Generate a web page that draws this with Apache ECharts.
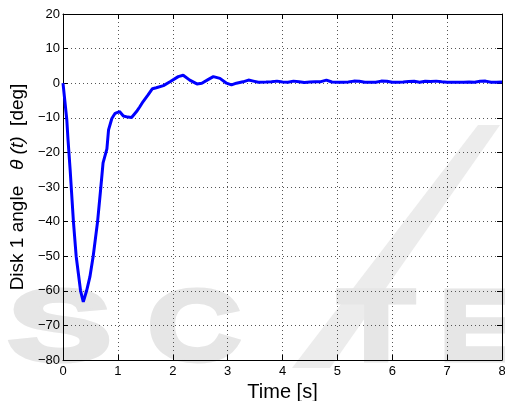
<!DOCTYPE html>
<html>
<head>
<meta charset="utf-8">
<script src="https://cdn.jsdelivr.net/npm/echarts@6/dist/echarts.min.js"></script>
<style>
  html, body { margin: 0; padding: 0; background: #fff; }
  #chart { width: 505px; height: 401px; }
</style>
</head>
<body>
<div id="chart"></div>
<script>
// Disk 1 angle response over time
const timeS = [
  0, 0.07, 0.09, 0.13, 0.15, 0.19, 0.24, 0.28, 0.32, 0.37, 0.43, 0.49, 0.55, 0.63, 0.69, 0.73,
  0.80, 0.83, 0.89, 0.95, 1.03, 1.10, 1.18, 1.25, 1.34, 1.40, 1.46, 1.55, 1.63, 1.70, 1.83,
  1.95, 2.10, 2.19, 2.31, 2.44, 2.53, 2.65, 2.74, 2.86, 2.98, 3.07, 3.16, 3.28, 3.38, 3.47, 3.56,
  3.7, 3.8, 3.9, 4.0, 4.1, 4.2, 4.3, 4.4, 4.5, 4.6, 4.7, 4.8, 4.9, 5.0, 5.1, 5.2, 5.3, 5.4,
  5.5, 5.6, 5.7, 5.8, 5.9, 6.0, 6.1, 6.2, 6.3, 6.4, 6.5, 6.6, 6.7, 6.8, 6.9, 7.0, 7.1, 7.2,
  7.3, 7.4, 7.5, 7.6, 7.7, 7.8, 7.9, 8.0
];
const angleDeg = [
  0, -10.7, -16, -25, -30, -40, -50, -55, -60, -63.2, -60, -56, -50, -40, -30, -23,
  -19, -13.5, -10.2, -8.7, -8.2, -9.5, -9.8, -9.9, -8.2, -6.8, -5.3, -3.4, -1.6, -1.3, -0.7,
  0.4, 1.9, 2.3, 0.9, -0.2, 0.0, 1.1, 1.9, 1.4, 0.0, -0.5, 0.0, 0.4, 0.9, 0.6, 0.3,
  0.35, 0.4, 0.6, 0.35, 0.3, 0.6, 0.4, 0.2, 0.35, 0.4, 0.45, 0.9, 0.35, 0.3, 0.3, 0.35, 0.6, 0.55,
  0.3, 0.25, 0.3, 0.6, 0.55, 0.25, 0.3, 0.35, 0.5, 0.55, 0.3, 0.55, 0.5, 0.6, 0.4, 0.3, 0.25, 0.3,
  0.3, 0.35, 0.3, 0.55, 0.6, 0.3, 0.3, 0.35
];
const xMin = 0, xMax = 8, xStep = 1;
const yMin = -80, yMax = 20, yStep = 10;

const font = "'Liberation Sans', Arial, Helvetica, sans-serif";
const minus = v => (v < 0 ? '\u2212' + (-v) : String(v));

const chart = echarts.init(document.getElementById('chart'), null, { renderer: 'canvas' });

// faint publisher mark behind the plot
const mark = '#e6e6e6';
const markFont = "bold 100px 'Liberation Sans', Arial";
const markLetter = (ch, x, sx) => ({
  type: 'text', z: -5, silent: true, x: x, y: 332, scaleX: sx,
  style: {
    text: ch, fill: mark, stroke: mark, lineWidth: 5, font: markFont,
    textAlign: 'left', textVerticalAlign: 'middle'
  }
});

const option = {
  animation: false,
  backgroundColor: '#fff',
  graphic: [
    markLetter('S', 8, 1.55),
    markLetter('C', 148, 1.28),
    { type: 'polygon', z: -5, silent: true, shape: { points: [[292, 368], [330, 368], [500, 125], [478, 125]] }, style: { fill: '#ececec' } },
    markLetter('T', 338, 1.25),
    markLetter('E', 440, 1.1)
  ],
  grid: { left: 63, right: 3, top: 14, bottom: 41, containLabel: false, outerBoundsMode: 'none', show: false },
  xAxis: [
    {
      type: 'value', min: xMin, max: xMax, interval: xStep, position: 'bottom',
      name: 'Time [s]', nameLocation: 'middle', nameGap: 16,
      nameTextStyle: { fontFamily: font, fontSize: 20, color: '#000', verticalAlign: 'top' },
      axisLine: { show: true, onZero: false, lineStyle: { color: '#000', width: 1 } },
      axisTick: { show: true, inside: true, length: 5, lineStyle: { color: '#000' } },
      axisLabel: { margin: 5, fontFamily: font, fontSize: 13, color: '#000' },
      splitLine: { show: true, lineStyle: { color: '#555', type: [1, 3], width: 1 } }
    },
    {
      type: 'value', min: xMin, max: xMax, interval: xStep, position: 'top',
      axisLine: { show: true, onZero: false, lineStyle: { color: '#000', width: 1 } },
      axisTick: { show: true, inside: true, length: 5, lineStyle: { color: '#000' } },
      axisLabel: { show: false }, splitLine: { show: false }
    }
  ],
  yAxis: [
    {
      type: 'value', min: yMin, max: yMax, interval: yStep, position: 'left',
      name: '{n|Disk 1 angle   }{i|\u03b8 (t)}{n|  [deg]}',
      nameLocation: 'middle', nameGap: 33, nameRotate: 90,
      nameTextStyle: {
        rich: {
          n: { fontFamily: font, fontSize: 19, color: '#000' },
          i: { fontFamily: font, fontSize: 19, color: '#000', fontStyle: 'italic' }
        }
      },
      axisLine: { show: true, onZero: false, lineStyle: { color: '#000', width: 1 } },
      axisTick: { show: true, inside: true, length: 5, lineStyle: { color: '#000' } },
      axisLabel: { margin: 3, fontFamily: font, fontSize: 13, color: '#000', formatter: minus },
      splitLine: { show: true, lineStyle: { color: '#555', type: [1, 3], width: 1 } }
    },
    {
      type: 'value', min: yMin, max: yMax, interval: yStep, position: 'right',
      axisLine: { show: true, onZero: false, lineStyle: { color: '#000', width: 1 } },
      axisTick: { show: true, inside: true, length: 5, lineStyle: { color: '#000' } },
      axisLabel: { show: false }, splitLine: { show: false }
    }
  ],
  series: [
    {
      type: 'line',
      xAxisIndex: 0, yAxisIndex: 0,
      data: timeS.map((t, i) => [t, angleDeg[i]]),
      showSymbol: false,
      smooth: false,
      lineStyle: { color: '#0000ff', width: 3 },
      z: 5
    }
  ]
};
chart.setOption(option);
</script>
</body>
</html>
